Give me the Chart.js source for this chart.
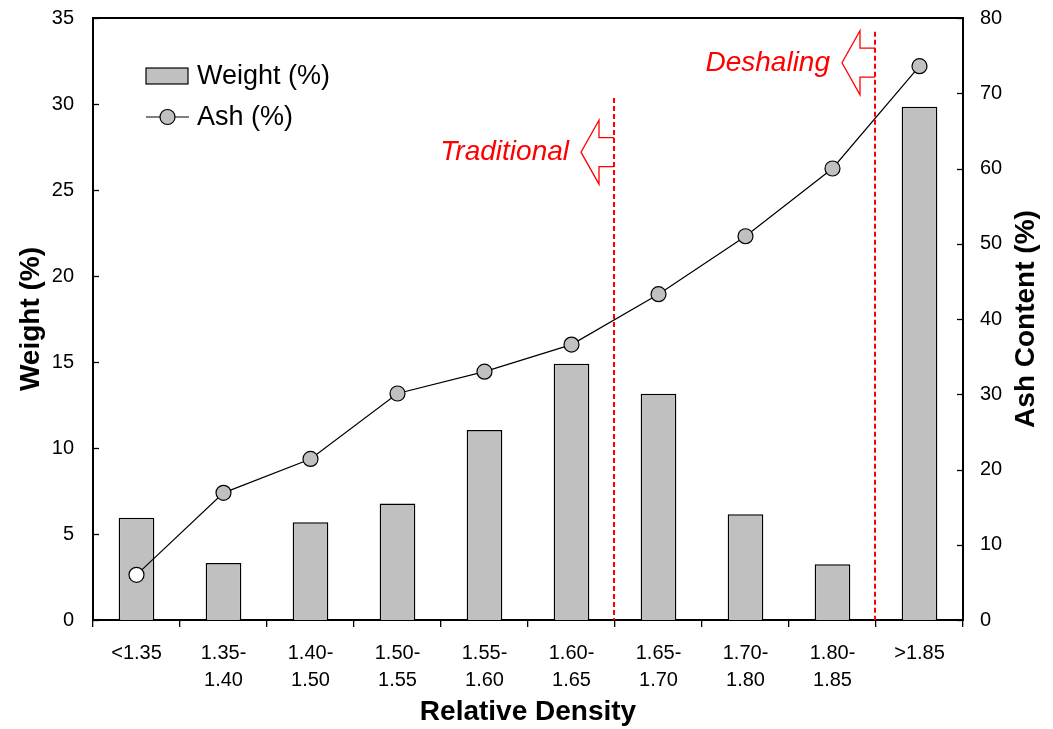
<!DOCTYPE html>
<html>
<head>
<meta charset="utf-8">
<script src="https://cdn.jsdelivr.net/npm/chart.js@4.4.1/dist/chart.umd.min.js"></script>
<style>
  html, body { margin: 0; padding: 0; background: #fff; }
  #wrap { width: 1053px; height: 729px; }
</style>
</head>
<body>
<div id="wrap"><canvas id="c"></canvas></div>
<script>
// Density fractions (x categories)
const densityClasses = [
  ['<1.35'], ['1.35-', '1.40'], ['1.40-', '1.50'], ['1.50-', '1.55'], ['1.55-', '1.60'],
  ['1.60-', '1.65'], ['1.65-', '1.70'], ['1.70-', '1.80'], ['1.80-', '1.85'], ['>1.85']
];
// Weight yield of each fraction (%)
const weightPct = [5.95, 3.32, 5.68, 6.78, 11.05, 14.9, 13.16, 6.15, 3.24, 29.84];
// Ash content of each fraction (%)
const ashPct = [6.0, 16.9, 21.4, 30.1, 33.0, 36.6, 43.3, 51.0, 60.0, 73.6];
// Axis tick steps
const weightTicks = { min: 0, max: 35, step: 5 };
const ashTicks = { min: 0, max: 80, step: 10 };
// Separation cut points: boundary after category index, line top and arrow level on weight axis
const cutPoints = [
  { label: 'Traditional', after: 5, top: 30.35, arrowAt: 27.2 },
  { label: 'Deshaling', after: 8, top: 34.2, arrowAt: 32.4 }
];

const FONT = "'Liberation Sans', Arial, sans-serif";
const GREY = '#c0c0c0';

const decorPlugin = {
  id: 'decor',
  afterDatasetsDraw(chart) {
    const { ctx, chartArea: ca } = chart;
    const x = chart.scales.x, yW = chart.scales.yW;
    ctx.save();
    cutPoints.forEach(cp => {
      const lx = (x.getPixelForValue(cp.after) + x.getPixelForValue(cp.after + 1)) / 2 - 1;
      // dashed cut line
      ctx.beginPath();
      ctx.setLineDash([5, 3]);
      ctx.strokeStyle = '#ff0000';
      ctx.lineWidth = 2;
      ctx.moveTo(lx, yW.getPixelForValue(cp.top));
      ctx.lineTo(lx, ca.bottom);
      ctx.stroke();
      ctx.setLineDash([]);
      // arrow pointing to the lighter side
      const cy = yW.getPixelForValue(cp.arrowAt);
      ctx.beginPath();
      ctx.lineWidth = 1.3;
      ctx.moveTo(lx, cy - 14.5);
      ctx.lineTo(lx - 15, cy - 14.5);
      ctx.lineTo(lx - 15, cy - 32);
      ctx.lineTo(lx - 33, cy);
      ctx.lineTo(lx - 15, cy + 32);
      ctx.lineTo(lx - 15, cy + 14.5);
      ctx.lineTo(lx, cy + 14.5);
      ctx.stroke();
      ctx.fillStyle = '#ff0000';
      ctx.font = 'italic 28px ' + FONT;
      ctx.textAlign = 'right';
      ctx.textBaseline = 'middle';
      ctx.fillText(cp.label, lx - 45, cy);
    });
    ctx.restore();
  },
  afterDraw(chart) {
    const { ctx, chartArea: ca } = chart;
    const yW = chart.scales.yW, yA = chart.scales.yA;
    ctx.save();
    // top frame line
    ctx.strokeStyle = '#000';
    ctx.lineWidth = 2;
    ctx.beginPath();
    ctx.moveTo(ca.left - 1, ca.top);
    ctx.lineTo(ca.right + 1, ca.top);
    ctx.stroke();
    // inward tick marks on both value axes
    ctx.lineWidth = 1.3;
    yW.ticks.forEach(t => {
      const py = Math.round(yW.getPixelForValue(t.value)) + 0.5;
      ctx.beginPath(); ctx.moveTo(ca.left, py); ctx.lineTo(ca.left + 6, py); ctx.stroke();
    });
    yA.ticks.forEach(t => {
      const py = Math.round(yA.getPixelForValue(t.value)) + 0.5;
      ctx.beginPath(); ctx.moveTo(ca.right - 6, py); ctx.lineTo(ca.right, py); ctx.stroke();
    });
    // right axis title, reading bottom to top
    ctx.save();
    ctx.translate(1026, (ca.top + ca.bottom) / 2);
    ctx.rotate(-Math.PI / 2);
    ctx.font = 'bold 28px ' + FONT;
    ctx.fillStyle = '#000';
    ctx.textAlign = 'center';
    ctx.textBaseline = 'middle';
    ctx.fillText('Ash Content (%)', 0, 0);
    ctx.restore();
    // legend inside the plot
    const ds = chart.data.datasets;
    const barDs = ds.find(d => d.type === 'bar');
    const lineDs = ds.find(d => d.type === 'line');
    const lx = ca.left + 53, ly1 = ca.top + 58, ly2 = ca.top + 99;
    ctx.fillStyle = GREY;
    ctx.fillRect(lx, ly1 - 8, 42, 16);
    ctx.lineWidth = 1.2;
    ctx.strokeStyle = '#000';
    ctx.strokeRect(lx, ly1 - 8, 42, 16);
    ctx.beginPath(); ctx.moveTo(lx, ly2); ctx.lineTo(lx + 43, ly2); ctx.stroke();
    ctx.beginPath(); ctx.arc(lx + 21.5, ly2, 7.5, 0, Math.PI * 2);
    ctx.fillStyle = GREY; ctx.fill(); ctx.stroke();
    ctx.fillStyle = '#000';
    ctx.font = '27px ' + FONT;
    ctx.textAlign = 'left';
    ctx.textBaseline = 'middle';
    ctx.fillText(barDs.label, lx + 51, ly1 + 1);
    ctx.fillText(lineDs.label, lx + 51, ly2 + 1);
    ctx.restore();
  }
};

new Chart(document.getElementById('c'), {
  data: {
    labels: densityClasses,
    datasets: [
      {
        type: 'line',
        label: 'Ash (%)',
        data: ashPct,
        yAxisID: 'yA',
        borderColor: '#000',
        borderWidth: 1.2,
        pointRadius: 7.5,
        pointHoverRadius: 7.5,
        pointBorderWidth: 1.2,
        pointBorderColor: '#000',
        pointBackgroundColor: ashPct.map((v, i) => i === 0 ? '#ffffff' : GREY),
        tension: 0,
        order: 0
      },
      {
        type: 'bar',
        label: 'Weight (%)',
        data: weightPct,
        yAxisID: 'yW',
        backgroundColor: GREY,
        borderColor: '#000',
        borderWidth: 1.5,
        categoryPercentage: 1,
        barPercentage: 0.41,
        order: 1
      }
    ]
  },
  options: {
    responsive: true,
    maintainAspectRatio: false,
    animation: false,
    events: [],
    layout: { padding: { top: 18, left: 0, right: 0, bottom: 0 } },
    plugins: { legend: { display: false }, tooltip: { enabled: false } },
    scales: {
      x: {
        type: 'category',
        offset: true,
        afterFit: s => { s.height = 109; },
        grid: { display: true, offset: true, drawOnChartArea: false, drawTicks: true, tickLength: 7, color: '#000', lineWidth: 1.3 },
        border: { display: true, color: '#000', width: 2 },
        ticks: { color: '#000', padding: 13, maxRotation: 0, autoSkip: false, font: { family: FONT, size: 20, lineHeight: 1.35 } },
        title: { display: true, text: 'Relative Density', color: '#000', font: { family: FONT, size: 28, weight: 'bold', lineHeight: 1.2 }, padding: { top: 0, bottom: 0 } }
      },
      yW: {
        type: 'linear',
        position: 'left',
        min: weightTicks.min,
        max: weightTicks.max,
        afterFit: s => { s.width = 93; s.paddingTop = 0; s.paddingBottom = 0; },
        grid: { display: false, drawTicks: false },
        border: { display: true, color: '#000', width: 2 },
        ticks: { stepSize: weightTicks.step, color: '#000', padding: 19, font: { family: FONT, size: 20 } },
        title: { display: true, text: 'Weight (%)', color: '#000', font: { family: FONT, size: 28, weight: 'bold', lineHeight: 1.2 }, padding: { top: 14, bottom: 0 } }
      },
      yA: {
        type: 'linear',
        position: 'right',
        min: ashTicks.min,
        max: ashTicks.max,
        afterFit: s => { s.width = 90; s.paddingTop = 0; s.paddingBottom = 0; },
        grid: { display: false, drawTicks: false },
        border: { display: true, color: '#000', width: 2 },
        ticks: { stepSize: ashTicks.step, color: '#000', padding: 17, font: { family: FONT, size: 20 } }
      }
    }
  },
  plugins: [decorPlugin]
});
</script>
</body>
</html>
